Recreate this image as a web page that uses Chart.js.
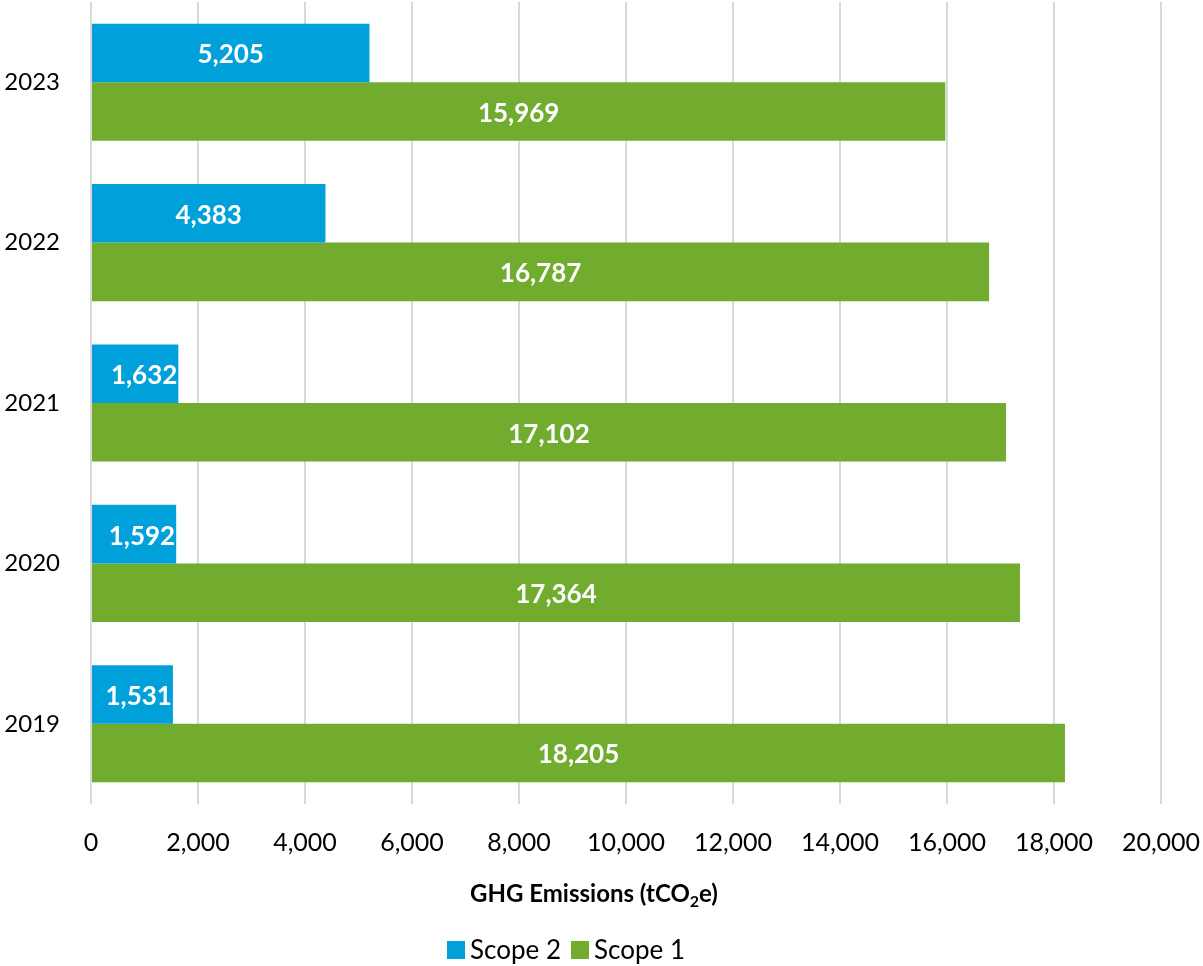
<!DOCTYPE html>
<html>
<head>
<meta charset="utf-8">
<script src="https://cdn.jsdelivr.net/npm/chart.js@4/dist/chart.umd.min.js"></script>
<style>
  html, body { margin: 0; padding: 0; background: #fff; }
  #wrap { width: 1203px; height: 966px; }
</style>
</head>
<body>
<div id="wrap"><canvas id="chart"></canvas></div>
<script>
// emissions per year, tCO2e
const years = ['2023', '2022', '2021', '2020', '2019'];
const scope2 = [5205, 4383, 1632, 1592, 1531];
const scope1 = [15969, 16787, 17102, 17364, 18205];
const xTicks = [0, 2000, 4000, 6000, 8000, 10000, 12000, 14000, 16000, 18000, 20000];

const FONT = 'Lato, "Open Sans", sans-serif';
const BLUE = '#00a1db';
const GREEN = '#71ac2f';

const fmt = v => v.toLocaleString('en-US');

// white value labels inside each bar
const barLabels = {
    id: 'barLabels',
    afterDatasetsDraw(chart) {
        const ctx = chart.ctx;
        ctx.save();
        ctx.font = 'bold 26px ' + FONT;
        ctx.fillStyle = '#fff';
        ctx.textBaseline = 'middle';
        ctx.textAlign = 'center';
        chart.data.datasets.forEach((ds, i) => {
            chart.getDatasetMeta(i).data.forEach((bar, j) => {
                const txt = fmt(ds.data[j]);
                const w = ctx.measureText(txt).width;
                const left = Math.min(bar.x, bar.base);
                const right = Math.max(bar.x, bar.base);
                let cx = (left + right) / 2;
                // short bars: push the label against the bar end
                if (w + 20 > right - left) cx = right - w / 2 - 1;
                ctx.fillText(txt, cx, bar.y + 2);
            });
        });
        ctx.restore();
    }
};

// axis title (with subscript) and legend under the plot
const footer = {
    id: 'footer',
    afterDraw(chart) {
        const ctx = chart.ctx;
        ctx.save();
        ctx.fillStyle = '#000';
        ctx.textBaseline = 'alphabetic';
        ctx.textAlign = 'left';

        const big = 'bold 24px ' + FONT, small = 'bold 16px ' + FONT;
        const parts = [['GHG Emissions (tCO', big, 0], ['2', small, 5], ['e)', big, 0]];
        let total = 0;
        parts.forEach(p => { ctx.font = p[1]; total += ctx.measureText(p[0]).width; });
        let x = 594 - total / 2;
        const base = 902;
        parts.forEach(p => {
            ctx.font = p[1];
            ctx.fillText(p[0], x, base + p[2]);
            x += ctx.measureText(p[0]).width;
        });

        ctx.font = '26px ' + FONT;
        ctx.textBaseline = 'middle';
        let lx = 447;
        chart.data.datasets.forEach(ds => {
            ctx.fillStyle = ds.backgroundColor;
            ctx.fillRect(lx, 941, 18, 18);
            lx += 23;
            ctx.fillStyle = '#000';
            ctx.fillText(ds.label, lx, 951);
            lx += ctx.measureText(ds.label).width + 10;
        });
        ctx.restore();
    }
};

new Chart(document.getElementById('chart'), {
    type: 'bar',
    data: {
        labels: years,
        datasets: [
            { label: 'Scope 2', data: scope2, backgroundColor: BLUE },
            { label: 'Scope 1', data: scope1, backgroundColor: GREEN }
        ]
    },
    options: {
        indexAxis: 'y',
        responsive: true,
        maintainAspectRatio: false,
        animation: false,
        categoryPercentage: 0.73,
        barPercentage: 1.0,
        layout: { padding: { top: 2, right: 42, left: 0, bottom: 0 } },
        plugins: {
            legend: { display: false },
            tooltip: { enabled: false }
        },
        scales: {
            x: {
                min: 0,
                max: 20000,
                afterBuildTicks: s => { s.ticks = xTicks.map(v => ({ value: v })); },
                afterFit: s => {
                    s.height = 162;
                    s.paddingLeft = 0;
                    s.paddingRight = 0;
                },
                grid: { color: '#d9d9d9', lineWidth: 2, drawTicks: false },
                border: { display: false },
                ticks: {
                    padding: 24,
                    color: '#000',
                    font: { family: FONT, size: 25 },
                    callback: v => fmt(v)
                }
            },
            y: {
                afterFit: s => {
                    s.width = 91;
                    s.paddingTop = 0;
                    s.paddingBottom = 0;
                },
                grid: { display: false, drawTicks: false },
                border: { display: false },
                ticks: {
                    padding: 31,
                    color: '#000',
                    font: { family: FONT, size: 24 }
                }
            }
        }
    },
    plugins: [barLabels, footer]
});
</script>
</body>
</html>
